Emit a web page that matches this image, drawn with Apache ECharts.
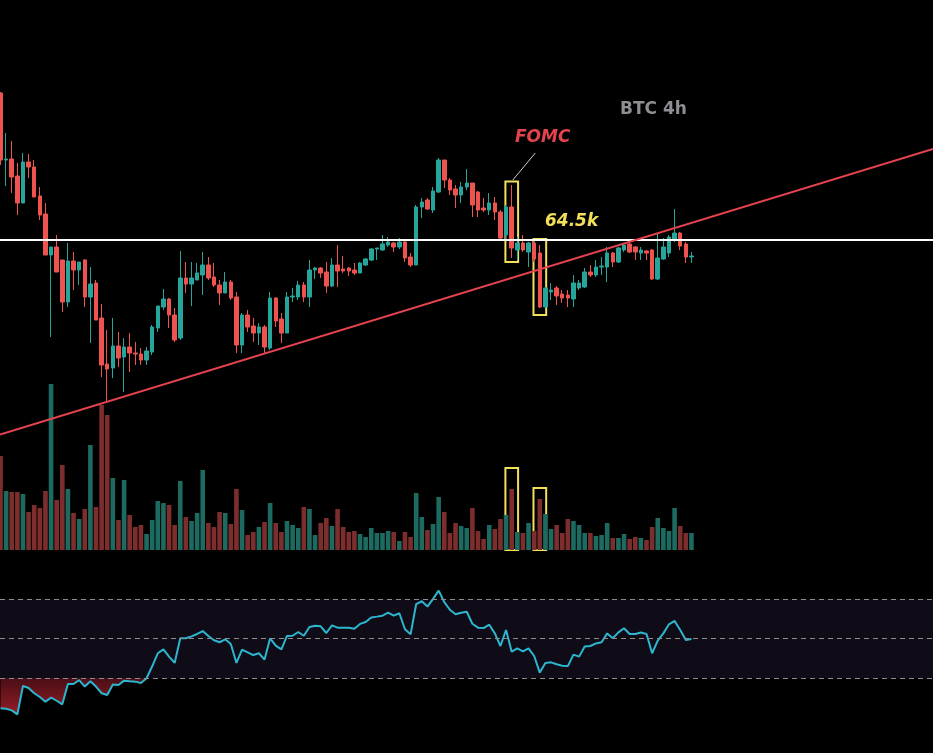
<!DOCTYPE html>
<html lang="en" style="height: 100%">
<head>
  <meta charset="utf-8">
</head>
<body style="height: 100%; margin: 0; background: #000">
  <div id="container" style="width: 933px; height: 753px"></div>

  <script type="text/javascript" src="https://cdn.jsdelivr.net/npm/echarts@6/dist/echarts.min.js"></script>

  <script type="text/javascript">
    // BTC 4h candles: [open, close, low, high]
    var candles = [
      [67440,66100,66000,67460],[66100,66120,65580,66640],[66120,65760,65440,66480],[65780,65240,65000,66040],
      [65240,66060,65240,66240],[66060,65960,65740,66220],[65960,65360,65360,66100],[65380,65000,64900,65560],
      [65020,64200,64200,65240],[64200,64360,62560,64360],[64360,63860,63860,64600],[64100,63260,63060,64100],
      [63260,64080,63160,64440],[64080,63900,63500,64260],[63900,64060,63600,64060],[64100,63360,63160,64120],
      [63360,63620,62440,63960],[63640,62900,62900,63700],[62940,62000,61760,63220],[62020,61920,61240,62700],
      [61940,62380,61740,62940],[62380,62140,61960,62660],[62160,62360,61460,62540],[62360,62240,61860,62640],
      [62240,62220,62000,62460],[62220,62100,62000,62340],[62100,62280,62000,62360],[62260,62760,62200,62800],
      [62740,63180,62660,63180],[63160,63320,63100,63520],[63320,63000,62740,63340],[63000,62500,62460,63140],
      [62540,63740,62500,64280],[63740,63620,63440,64060],[63620,63740,63180,64060],[63700,63840,63700,64040],
      [63800,64000,63400,64260],[64000,63740,63700,64160],[63760,63600,63560,64040],[63600,63440,63200,63700],
      [63440,63660,63440,63860],[63660,63340,63300,63700],[63360,62400,62240,63460],[62400,63000,62240,63040],
      [63000,62760,62660,63100],[62780,62640,62460,62940],[62640,62760,62400,62840],[62760,62360,62240,62800],
      [62340,63340,62300,63460],[63340,62880,62760,63360],[62920,62640,62440,63040],[62640,63360,62640,63460],
      [63360,63380,63260,63540],[63360,63600,63300,63680],[63600,63360,63260,63660],[63360,63900,63160,64100],
      [63900,63940,63720,63960],[63940,63840,63740,63960],[63860,63580,63440,64060],[63580,64000,63560,64140],
      [64000,63880,63560,64400],[63920,63880,63840,64180],[63940,63880,63780,63960],[63900,63840,63800,64040],
      [63840,64040,63840,64060],[64000,64120,63980,64140],[64100,64320,64080,64340],[64320,64340,64100,64340],
      [64300,64420,64280,64600],[64400,64460,64360,64560],[64440,64360,64260,64460],[64360,64460,64320,64540],
      [64460,64140,64060,64480],[64160,64000,63960,64240],[64000,65160,64000,65200],[65160,65260,64940,65340],
      [65300,65120,65100,65340],[65100,65480,65040,65560],[65460,66100,65440,66140],[66100,65700,65540,66100],
      [65700,65500,65400,65740],[65520,65400,65140,65600],[65400,65560,65240,65660],[65560,65640,65500,65920],
      [65640,65200,64960,65640],[65460,65100,64960,65480],[65140,65100,65060,65340],[65100,65240,65000,65440],
      [65240,65060,64900,65360],[65060,64540,64520,65100],[64600,65160,64500,65200],[65160,64340,64140,65600],
      [64300,64440,64100,64560],[64440,64300,64260,64600],[64260,64440,63960,64460],[64440,64120,64060,64500],
      [64240,63160,63140,64400],[63160,63540,63140,63560],[63460,63500,63300,63640],[63540,63380,63200,63580],
      [63420,63340,63240,63500],[63400,63340,63160,63500],[63320,63640,63160,63800],[63540,63640,63500,63700],
      [63560,63860,63540,63940],[63860,63800,63760,64000],[63800,63960,63760,64100],[63960,63980,63800,64160],
      [63960,64240,63660,64360],[64240,64060,63960,64260],[64060,64340,64040,64360],[64300,64400,64260,64440],
      [64420,64260,64240,64440],[64360,64260,64100,64380],[64240,64300,64100,64360],[64280,64240,64100,64300],
      [64300,63720,63700,64320],[63720,64140,63700,64620],[64120,64360,64100,64540],[64240,64560,64160,64600],
      [64500,64640,64460,65120],[64640,64380,64300,64660],[64420,64160,64040,64460],[64160,64180,64040,64260]
    ];

    var volumes = [
      9400,5900,5800,5800,5600,3800,4500,4200,5900,16600,5000,8500,6100,3700,3100,4100,
      10500,4300,14500,13500,7200,3000,7000,3500,2300,2500,1600,3000,4900,4700,4500,2500,
      6900,3300,2900,3700,8000,2700,2300,3800,3700,2600,6100,4000,1500,1800,2300,2800,
      4700,2700,1800,2900,2500,2200,4300,4100,1500,2700,3200,2400,4100,2300,1800,1900,
      1600,1300,2200,1700,1700,1900,1800,900,1800,1300,5700,3300,2000,2600,5300,3800,
      1700,2700,2400,2200,4200,1900,1100,2500,2100,3100,3500,6100,1800,1700,2700,1900,
      5100,3600,2100,2500,1700,3100,2900,2500,1700,1700,1400,1500,2700,1200,1200,1600,
      1100,1300,1200,1000,2300,3200,2200,1900,4200,2400,1700,1700
    ];

    var rsi = [
      14.6,14.3,13.5,11.5,25.9,24.9,22.2,20.3,17.9,20.0,18.4,16.6,26.9,26.9,28.9,25.6,
      28.3,25.6,22.2,21.3,26.6,26.4,28.6,28.3,28.1,27.4,29.8,35.9,42.5,44.5,40.8,37.6,
      50.1,50.1,51.1,52.3,53.8,51.3,49.1,48.1,49.6,47.2,37.6,44.3,43.0,41.6,42.5,39.3,
      50.1,46.4,44.5,51.3,51.4,53.3,51.4,55.8,56.5,56.2,52.8,56.7,55.5,55.5,55.5,55.0,
      57.4,58.4,60.7,61.1,61.6,63.1,61.6,62.8,54.7,52.1,67.5,68.9,66.2,70.1,74.3,68.5,
      64.6,62.3,63.1,63.6,57.5,55.5,55.3,57.0,52.6,46.2,54.3,43.3,45.0,43.5,45.0,41.1,
      32.7,37.6,37.9,36.9,36.2,36.0,41.8,40.8,45.9,46.2,47.5,48.1,52.6,50.1,53.1,55.2,
      52.3,52.3,53.0,52.3,42.5,48.9,52.6,57.2,58.9,54.3,49.2,49.7
    ];

    var level = 64500;
    var trendLine = [[-0.09, 60610], [166, 66320]];
    var fomcIndex = 91;
    var dropIndex = 96;

    var UP = '#26a69a', DOWN = '#ef5350';
    var VOL_UP = '#1d6b60', VOL_DOWN = '#7d2e2c';
    var YELLOW = '#f2e05a';

    var candleSeriesData = candles.map(function (c, i) { return [i, c[0], c[1], c[2], c[3]]; });
    var volumeSeriesData = volumes.map(function (v, i) {
      var up = candles[i][1] >= candles[i][0];
      return { value: [i, v], itemStyle: { color: up ? VOL_UP : VOL_DOWN } };
    });
    var rsiData = rsi.map(function (v, i) { return [i, v]; });
    var oversoldData = rsi.map(function (v, i) { return [i, Math.min(v, 30)]; });

    var boxStyle = { color: 'rgba(0,0,0,0)', borderColor: YELLOW, borderWidth: 2 };

    var dom = document.getElementById('container');
    var myChart = echarts.init(dom, null, { renderer: 'canvas' });

    var xCommon = { type: 'value', min: -0.09, max: 166, show: false };

    var option = {
      backgroundColor: '#000',
      animation: false,
      grid: [
        { left: 0, right: 0, top: 0, height: 753 },
        { left: 0, right: 0, top: 380, height: 170 },
        { left: 0, right: 0, top: 540, height: 197 }
      ],
      xAxis: [
        Object.assign({ gridIndex: 0 }, xCommon),
        Object.assign({ gridIndex: 1 }, xCommon),
        Object.assign({ gridIndex: 2 }, xCommon)
      ],
      yAxis: [
        { gridIndex: 0, type: 'value', min: 54240, max: 69300, show: false, splitLine: { show: false } },
        { gridIndex: 1, type: 'value', min: 0, max: 17000, show: false, splitLine: { show: false } },
        { gridIndex: 2, type: 'value', min: 0, max: 100, show: false, splitLine: { show: false } }
      ],
      graphic: [
        { type: 'text', left: 620, top: 101, style: { text: 'BTC 4h', fill: '#8e8e93', font: 'bold 17px "DejaVu Sans"' } },
        { type: 'text', left: 515, top: 129, style: { text: 'FOMC', fill: '#e2434d', font: 'italic bold 17px "DejaVu Sans"' } },
        { type: 'text', left: 545, top: 213, style: { text: '64.5k', fill: YELLOW, font: 'italic bold 17px "DejaVu Sans"' } }
      ],
      series: [
        {
          name: 'volume',
          type: 'bar',
          xAxisIndex: 1,
          yAxisIndex: 1,
          barWidth: 4.6,
          data: volumeSeriesData,
          markArea: {
            silent: true,
            itemStyle: boxStyle,
            data: [
              [{ coord: [fomcIndex - 1.12, 8200] }, { coord: [fomcIndex + 1.14, 0] }],
              [{ coord: [dropIndex - 1.12, 6200] }, { coord: [dropIndex + 1.14, 0] }]
            ]
          }
        },
        {
          name: 'BTC',
          type: 'candlestick',
          xAxisIndex: 0,
          yAxisIndex: 0,
          barWidth: 4,
          encode: { x: 0, y: [1, 2, 3, 4] },
          itemStyle: { color: UP, color0: DOWN, borderColor: UP, borderColor0: DOWN, borderWidth: 1 },
          data: candleSeriesData,
          markArea: {
            silent: true,
            itemStyle: boxStyle,
            data: [
              [{ coord: [fomcIndex - 1.12, 65670] }, { coord: [fomcIndex + 1.14, 64060] }],
              [{ coord: [dropIndex - 1.12, 64520] }, { coord: [dropIndex + 1.14, 63000] }]
            ]
          }
        },
        {
          name: 'trend',
          type: 'line',
          xAxisIndex: 0,
          yAxisIndex: 0,
          z: 5,
          showSymbol: false,
          lineStyle: { color: '#e5434f', width: 2 },
          data: trendLine,
          markLine: {
            silent: true,
            symbol: ['none', 'none'],
            label: { show: false },
            data: [
              { yAxis: level, lineStyle: { color: '#ffffff', width: 2, type: 'solid' } },
              [
                { coord: [95.2, 66240], lineStyle: { color: '#d0d0d0', width: 1, type: 'solid' } },
                { coord: [91.2, 65700] }
              ]
            ]
          }
        },
        {
          name: 'oversold',
          type: 'line',
          xAxisIndex: 2,
          yAxisIndex: 2,
          showSymbol: false,
          lineStyle: { width: 0 },
          areaStyle: {
            origin: 30,
            opacity: 1,
            color: {
              type: 'linear', x: 0, y: 678, x2: 0, y2: 737, global: true,
              colorStops: [{ offset: 0, color: '#4a0e16' }, { offset: 1, color: '#c4262f' }]
            }
          },
          data: oversoldData
        },
        {
          name: 'RSI',
          type: 'line',
          xAxisIndex: 2,
          yAxisIndex: 2,
          z: 4,
          showSymbol: false,
          lineStyle: { color: '#2cb6cf', width: 2 },
          data: rsiData,
          markArea: {
            silent: true,
            itemStyle: { color: '#0f0b17' },
            data: [[{ yAxis: 30 }, { yAxis: 70 }]]
          },
          markLine: {
            silent: true,
            symbol: ['none', 'none'],
            label: { show: false },
            lineStyle: { color: '#8d8d8d', width: 1, type: [5, 4] },
            data: [{ yAxis: 70 }, { yAxis: 50 }, { yAxis: 30 }]
          }
        }
      ]
    };

    myChart.setOption(option);
    window.addEventListener('resize', myChart.resize);
  </script>
</body>
</html>
